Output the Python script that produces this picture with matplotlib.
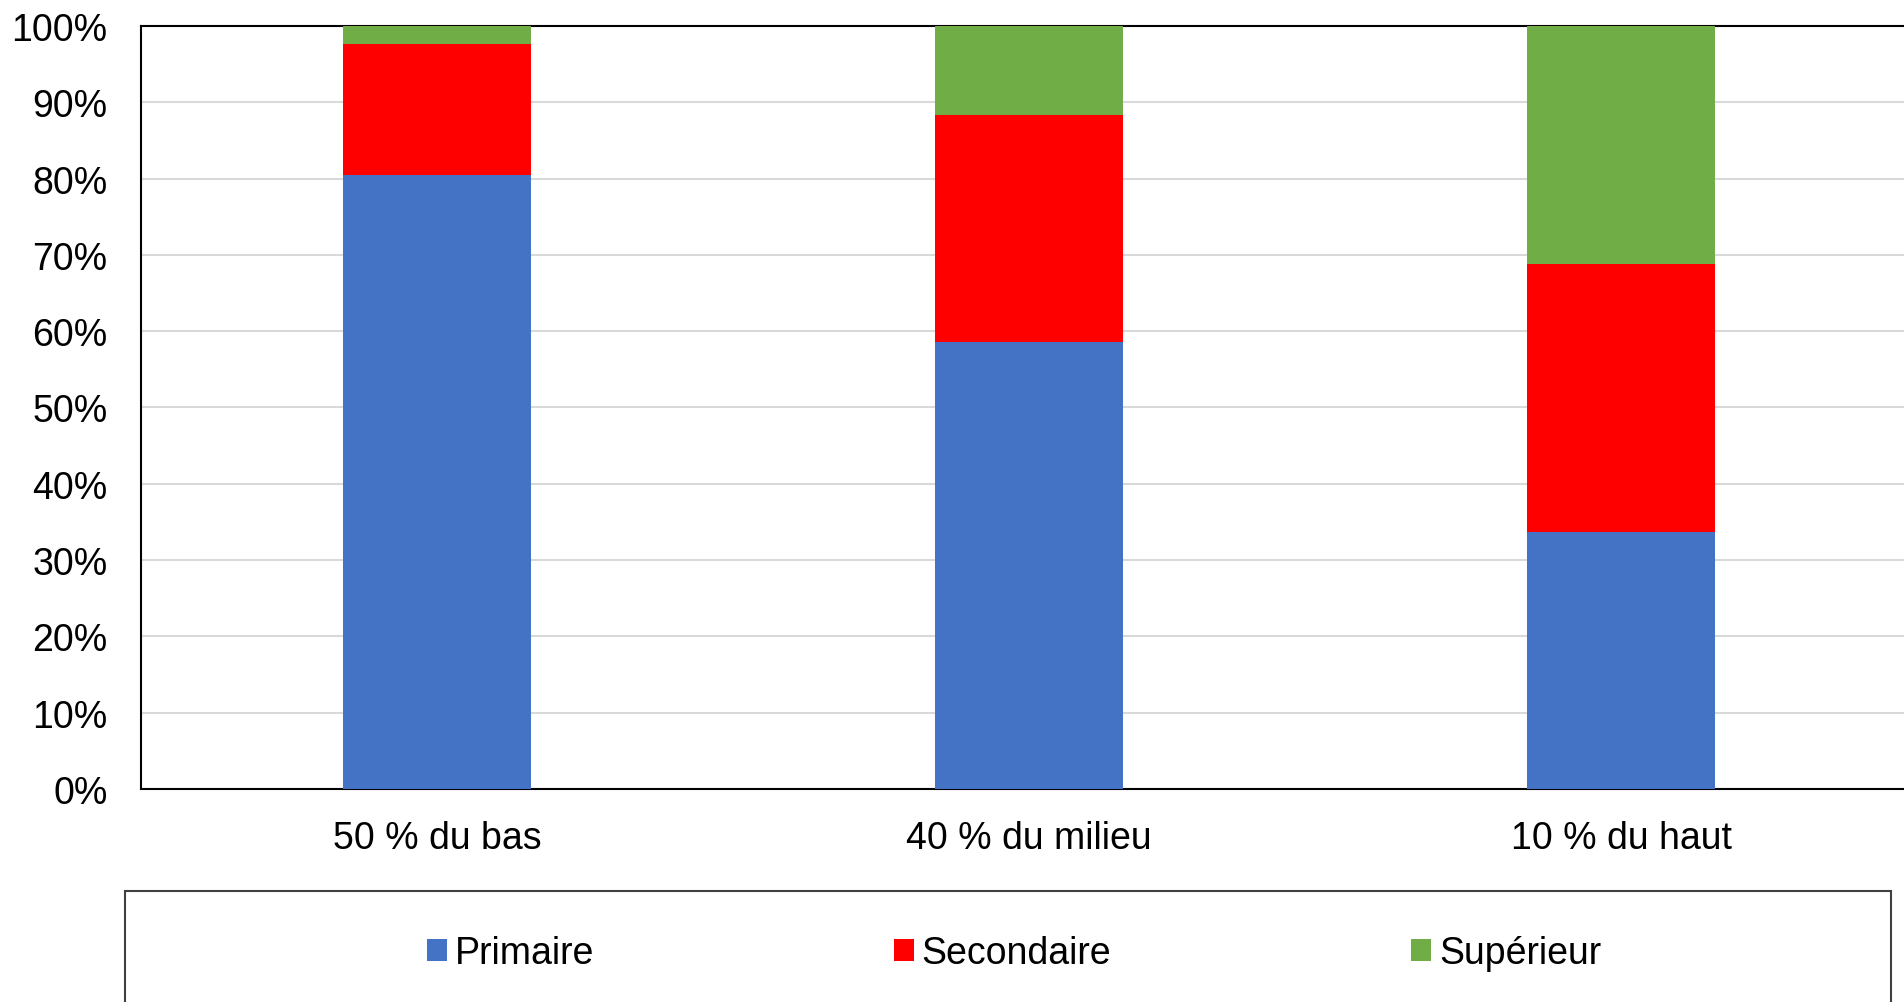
import numpy as np
import matplotlib
matplotlib.use("Agg")
import matplotlib.pyplot as plt
from matplotlib.patches import Rectangle

plt.rcParams['font.family'] = ['Liberation Sans', 'DejaVu Sans']

# data (shares in %)
categories = ["50 % du bas", "40 % du milieu", "10 % du haut"]
primaire = [80.5, 58.6, 33.7]
secondaire = [17.1, 29.7, 35.1]
superieur = [2.4, 11.7, 31.2]
series_names = ["Primaire", "Secondaire", "Supérieur"]
colors = ["#4472C4", "#FF0000", "#70AD47"]

fig = plt.figure(figsize=(19.04, 10.03), dpi=100)
ax = fig.add_axes([0.07405, 0.2124, 0.9328, 0.7607])

x = np.arange(len(categories))
w = 0.316
bottom = np.zeros(len(categories))
handles = []
for vals, name, c in zip([primaire, secondaire, superieur], series_names, colors):
    b = ax.bar(x, vals, w, bottom=bottom, color=c, label=name, zorder=3)
    handles.append(b)
    bottom += np.array(vals)

ax.set_xlim(-0.5, 2.5)
ax.set_ylim(0, 100)
ax.set_yticks(np.arange(0, 101, 10))
ax.set_yticklabels([f"{v}%" for v in range(0, 101, 10)])
ax.set_xticks(x)
ax.set_xticklabels(categories)
ax.tick_params(axis='both', length=0, labelsize=27, colors='black')
ax.tick_params(axis='y', pad=24)
ax.tick_params(axis='x', pad=22)
ax.grid(axis='y', color='#d9d9d9', linewidth=1.5, zorder=0)
ax.set_axisbelow(True)
for s in ['left', 'bottom', 'top']:
    ax.spines[s].set_color('black')
    ax.spines[s].set_linewidth(1.5)
ax.spines['right'].set_visible(False)

# legend box
fig.patches.append(Rectangle((125 / 1904, -0.05), (1891 - 125) / 1904, 1 - 892 / 1003 + 0.05,
                             transform=fig.transFigure, fill=False,
                             edgecolor='#404040', linewidth=1.5))
fig.legend(handles=handles, loc='center', bbox_to_anchor=(1014 / 1904, 1 - 954 / 1003),
           ncol=3, frameon=False, fontsize=27, handlelength=0.53, handleheight=0.53,
           handletextpad=0.21, columnspacing=8.0)

fig.savefig("out.png", dpi=100)
